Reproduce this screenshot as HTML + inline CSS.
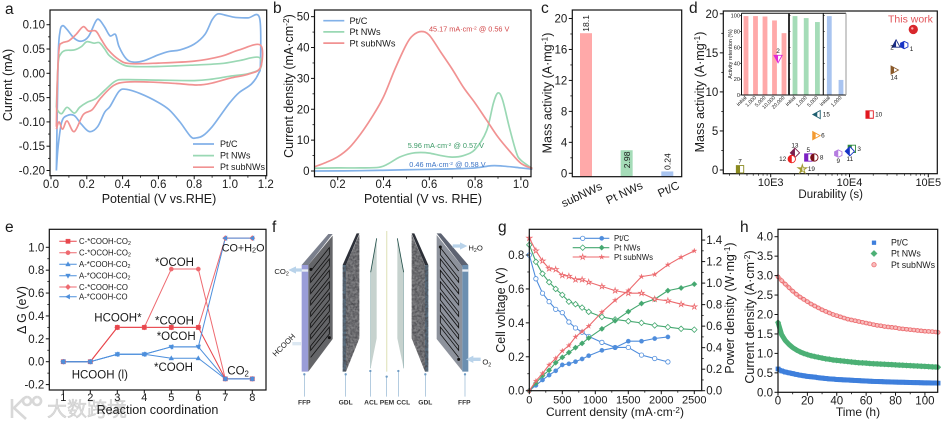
<!DOCTYPE html>
<html>
<head>
<meta charset="utf-8">
<title>Catalyst performance figure</title>
<style>
html,body{margin:0;padding:0;background:#fff;width:949px;height:426px;overflow:hidden}
svg{display:block;font-family:"Liberation Sans","Noto Sans CJK SC",sans-serif;filter:blur(.25px)}
</style>
</head>
<body>
<svg id="fig" xmlns="http://www.w3.org/2000/svg" width="949" height="426" viewBox="0 0 949 426">
<defs>
<filter id="grain" x="0" y="0" width="100%" height="100%" color-interpolation-filters="sRGB">
<feTurbulence type="fractalNoise" baseFrequency="0.14" numOctaves="2" seed="4"/>
<feColorMatrix values="0 0 0 0 .28  0 0 0 0 .28  0 0 0 0 .3  1.3 1.3 0 0 -.95"/>
<feComposite in2="SourceGraphic" operator="in" result="dots"/>
<feMerge><feMergeNode in="SourceGraphic"/><feMergeNode in="dots"/></feMerge>
</filter>
</defs>
<rect width="949" height="426" fill="#fff"/>

<g>
<path d="M12 399 L12 418 M24 398 L14 408 L26 419 M27 397 a4 4 0 1 0 .1 0 M37 397 a4 4 0 1 0 .1 0" fill="none" stroke="#d8d8d8" stroke-width="2.6"/>
<text x="47" y="416" font-size="20" fill="#dcdcdc" stroke="#cccccc" stroke-width=".5" font-family="'Noto Sans CJK SC',sans-serif">大数跨境</text>
</g>

<text x="272" y="232" font-size="15.5" fill="#1a1a1a">f</text>

<g id="panel-f" transform="translate(260 215) scale(.33333)">
<g>
<polygon points="125,150 205,57 218,57 145,150" fill="#7a7f8c"/>
<polygon points="125,150 145,150 145,470 125,470" fill="#9a9dd8"/>
<rect x="125" y="163" width="20" height="7" fill="#e8ecf4"/>
<polygon points="145,150 218,62 218,372 145,470" fill="#646568"/>
<path id="chanL" fill="none" stroke="#111" stroke-width="2.4"/>
<circle cx="153" cy="163" r="4.5" fill="#111"/><circle cx="208" cy="368" r="4.5" fill="#111"/>
</g>
<g>
<polygon points="248,150 290,55 298,55 258,150" fill="#2d3038"/>
<polygon points="258,150 298,58 298,370 258,470" fill="#808083" filter="url(#grain)"/>
<polygon points="248,150 258,150 258,470 248,470" fill="#5a6f80" filter="url(#grain)"/>
</g>
<g>
<polygon points="332,172 350,70 350,370 332,460" fill="#c6d2ce"/>
<line x1="332" y1="172" x2="350" y2="70" stroke="#23504a" stroke-width="2.5"/>
<line x1="332" y1="172" x2="332" y2="460" stroke="#7fa5a8" stroke-width="1.5"/>
</g>
<rect x="378" y="48" width="4" height="422" fill="#e6e8c8"/>
<g>
<polygon points="412,70 431,172 431,460 412,370" fill="#c6d2ce"/>
<line x1="412" y1="70" x2="431" y2="172" stroke="#23504a" stroke-width="2.5"/>
<line x1="431" y1="172" x2="431" y2="460" stroke="#7fa5a8" stroke-width="1.5"/>
</g>
<g>
<polygon points="455,55 463,55 505,150 495,150" fill="#2d3038"/>
<polygon points="455,58 495,150 495,470 455,370" fill="#808083" filter="url(#grain)"/>
<polygon points="495,150 505,150 505,470 495,470" fill="#5a6f80" filter="url(#grain)"/>
</g>
<g>
<polygon points="530,55 543,55 625,150 607,155" fill="#5d6372"/>
<polygon points="530,60 607,155 607,468 530,372" fill="#8d929c"/>
<polygon points="607,150 625,150 625,470 607,470" fill="#6c8fb0"/>
<rect x="607" y="163" width="18" height="7" fill="#e8ecf4"/>
<path id="chanR" fill="none" stroke="#111" stroke-width="2.4"/>
<circle cx="541" cy="96" r="4.5" fill="#111"/><circle cx="596" cy="433" r="4.5" fill="#111"/>
</g>
<g fill="#b9d3ea">
<polygon points="125,160 108,160 108,154 85,165 108,176 108,170 125,170"/>
<polygon points="578,88 600,88 600,82 622,93 600,104 600,98 578,98"/>
<polygon points="662,428 640,428 640,422 618,433 640,444 640,438 662,438"/>
<rect x="97" y="381" width="26" height="10" fill="#dce8f2"/>
</g>
<g stroke="#8fb2d0" stroke-width="2" fill="#6f9cc4">
<path d="M133 478V545M257 478V545M331 468V545M380 485V545M415 468V545M496 478V545M615 478V545" fill="none"/>
<circle cx="133" cy="478" r="3.5" stroke="none"/><circle cx="257" cy="478" r="3.5" stroke="none"/><circle cx="331" cy="468" r="3.5" stroke="none"/><circle cx="380" cy="485" r="3.5" stroke="none"/><circle cx="415" cy="468" r="3.5" stroke="none"/><circle cx="496" cy="478" r="3.5" stroke="none"/><circle cx="615" cy="478" r="3.5" stroke="none"/>
</g>
<g font-size="20" font-weight="bold" fill="#333" text-anchor="middle">
<text x="133" y="568">FFP</text>
<text x="257" y="568">GDL</text>
<text x="333" y="568">ACL</text>
<text x="381" y="568">PEM</text>
<text x="430" y="568">CCL</text>
<text x="496" y="568">GDL</text>
<text x="613" y="568">FFP</text>
</g>
<g font-size="23" fill="#222">
<text x="43" y="177">CO<tspan font-size="16" dy="5">2</tspan></text>
<text x="625" y="106">H<tspan font-size="16" dy="5">2</tspan><tspan dy="-5">O</tspan></text>
<text x="667" y="449">O<tspan font-size="16" dy="5">2</tspan></text>
<text transform="translate(47 426) rotate(-45)">HCOOH</text>
</g>
</g>
</svg>

<script>
/* ---------- panel a: CV curves ---------- */
var cvPtcV=[.03,.04,.05,.065,.09,.13,.17,.21,.25,.27,.3,.33,.36,.38,.42,.46,.52,.6,.66,.72,.8,.86,.9,.93,.97,1.03,1.1,1.165,1.17,1.16,1.12,1.05,1,.95,.9,.85,.81,.78,.72,.66,.6,.5,.42,.38,.33,.3,.26,.215,.17,.13,.09,.06,.04,.03];
var cvPtcI=[-.2,.03,.085,.098,.09,.072,.066,.076,.107,.11,.095,.077,.08,.055,.03,.023,.026,.038,.045,.048,.06,.08,.11,.122,.12,.115,.114,.114,.02,0,-.022,-.04,-.06,-.085,-.11,-.128,-.133,-.13,-.1,-.075,-.06,-.042,-.033,-.037,-.068,-.08,-.11,-.12,-.105,-.087,-.087,-.1,-.15,-.2];
var cvNwV=[.03,.04,.055,.08,.13,.17,.2,.24,.27,.3,.33,.4,.46,.6,.8,.95,1.05,1.16,1.17,1.1,1,.9,.8,.6,.42,.36,.3,.25,.2,.16,.13,.09,.06,.04,.03];
var cvNwI=[-.07,.02,.04,.047,.048,.055,.065,.062,.063,.05,.035,.018,.014,.014,.017,.02,.026,.033,.01,-.001,-.006,-.012,-.015,-.014,-.013,-.016,-.035,-.052,-.06,-.07,-.082,-.07,-.083,-.078,-.07];
var cvSubV=[.03,.035,.045,.06,.1,.14,.18,.21,.25,.28,.32,.38,.44,.6,.8,.95,1.05,1.17,1.17,1.1,1,.9,.82,.7,.55,.42,.35,.28,.23,.18,.13,.09,.065,.045,.03];
var cvSubI=[-.11,-.02,.05,.062,.067,.08,.096,.087,.087,.07,.048,.028,.02,.021,.025,.035,.048,.058,.012,-.002,-.01,-.02,-.024,-.021,-.018,-.018,-.025,-.05,-.075,-.085,-.12,-.098,-.115,-.1,-.115];
var cvXTicks=[0,.2,.4,.6,.8,1,1.2];
var cvYTicks=[-.2,-.15,-.1,-.05,0,.05,.1];
var seriesNames=["Pt/C","Pt NWs","Pt subNWs"];

/* ---------- panel b: current density ---------- */
var lsvPtcV=[.1,.3,.5,.58,.7,.8,.87,.92,1,1.05];
var lsvPtcJ=[0,.1,.4,.5,.7,1,1.7,1.6,1,.6];
var lsvNwV=[.1,.2,.3,.38,.42,.47,.52,.56,.6,.65,.7,.75,.8,.85,.88,.9,.92,.95,.98,1,1.05];
var lsvNwJ=[.9,1,1,1.2,2.3,4.5,5.7,6,5.8,5,4.5,5,7,13,22,25.3,23,14,6,3.5,.8];
var lsvSubV=[.1,.15,.2,.25,.3,.35,.4,.45,.5,.53,.565,.6,.65,.7,.75,.8,.85,.9,.95,1,1.05];
var lsvSubJ=[1.4,2.8,4.6,7.5,12,17.5,24,33,41,44,45.2,44,38.5,33,27,22,16.5,11,6.5,2.5,.8];
var lsvXTicks=[.2,.4,.6,.8,1];
var lsvYTicks=[0,10,20,30,40,50];

/* ---------- panel c: mass activity bars ---------- */
var barCats=["subNWs","Pt NWs","Pt/C"];
var barVals=[18.1,2.98,0.24];
var barYTicks=[0,4,8,12,16,20];

/* ---------- panel d: durability scatter ---------- */
var durIds=["This work","1","2","14","15","10","6","3","11","9","13","5","8","12","19","7","2"];
var durSeconds=[64500,49500,39000,36700,3900,18000,3720,10700,10100,7200,2030,3000,3580,1850,2520,408,1240];
var durActivity=[18,16,16.1,12.8,7.1,7.1,4.4,2.7,2.4,2.1,2.2,1.6,1.6,1.4,.1,.1,14.3];
var durXTicks=[1000,10000,100000];
var durXLabels=["10E3","10E4","10E5"];
var durYTicks=[0,5,10,15,20];
var retentionSubCats=["initial","1,000","5,000","10,000","20,000"];
var retentionSub=[99.5,99.5,99,94,78];
var retentionNwCats=["initial","1,000","5,000"];
var retentionNw=[99.5,97,92];
var retentionPtcCats=["initial","1,000"];
var retentionPtc=[99.5,19];
var retentionTicks=[0,20,40,60,80,100];

/* ---------- panel e: free energy ---------- */
var rxnSteps=[1,2,3,4,5,6,7,8];
var feCCooCO2=[0,0,.3,.3,.3,.3,-.15,-.15];
var feCOcoCO2=[0,0,.3,.3,.81,.81,-.15,-.15];
var feACooCO2=[0,0,.065,.065,.03,.03,-.15,-.15];
var feAOcoCO2=[0,0,.065,.065,.13,.13,-.15,-.15];
var feCCooCO=[0,0,.3,.3,.3,.3,1.08,1.08];
var feACooCO=[0,0,.065,.065,.13,.13,1.08,1.08];
var feYTicks=[-.2,0,.2,.4,.6,.8,1];

/* ---------- panel g: polarization ---------- */
var jPtc=[0,100,200,300,400,500,600,700,800,900,1100,1300,1500,1700,1900,2100];
var jAll=[0,100,200,300,400,500,600,700,800,900,1100,1300,1500,1700,1900,2100,2300,2500];
var voltPtc=[.8,.66,.575,.525,.48,.46,.405,.37,.345,.32,.285,.255,.255,.21,.19,.17];
var powPtc=[0,.05,.1,.145,.185,.24,.25,.27,.295,.325,.375,.4,.46,.46,.485,.5];
var voltNw=[.86,.76,.69,.64,.6,.565,.525,.51,.49,.465,.435,.42,.41,.4,.385,.375,.365,.36];
var powNw=[0,.07,.14,.19,.26,.31,.355,.4,.44,.49,.575,.65,.735,.81,.85,.93,.955,.99];
var voltSub=[.9,.825,.765,.72,.715,.68,.675,.655,.655,.64,.615,.59,.575,.575,.54,.53,.51,.495];
var powSub=[0,.09,.16,.24,.3,.37,.42,.5,.55,.6,.73,.84,.93,1.06,1.08,1.17,1.24,1.3];
var jTicks=[0,500,1000,1500,2000,2500];
var voltTicks=[0,.2,.4,.6,.8];
var powTicks=[0,.2,.4,.6,.8,1,1.2,1.4];

/* ---------- panel h: stability ---------- */
var hours=[0,2.5,5,7.5,10,12.5,15,17.5,20,22.5,25,27.5,30,32.5,35,37.5,40,42.5,45,47.5,50,52.5,55,57.5,60,62.5,65,67.5,70,72.5,75,77.5,80,82.5,85,87.5,90,92.5,95,97.5,100,102.5,105,107.5,109];
var stabPtc=[.6,.55,.52,.5,.48,.46,.44,.425,.41,.4,.39,.375,.365,.355,.345,.34,.33,.325,.32,.315,.31,.305,.3,.295,.29,.285,.28,.278,.275,.27,.268,.265,.262,.26,.257,.255,.252,.25,.248,.245,.243,.242,.24,.238,.236];
var stabNw=[1.8,1.48,1.33,1.23,1.15,1.09,1.04,1,.97,.94,.92,.9,.88,.86,.85,.83,.82,.81,.8,.79,.78,.77,.76,.755,.75,.74,.735,.73,.725,.72,.715,.71,.705,.7,.695,.69,.685,.68,.675,.67,.665,.66,.655,.65,.645];
var stabSub=[2.97,2.87,2.78,2.69,2.6,2.52,2.45,2.39,2.33,2.27,2.22,2.17,2.12,2.08,2.04,2,1.97,1.94,1.91,1.88,1.86,1.84,1.82,1.8,1.78,1.76,1.74,1.72,1.71,1.69,1.68,1.67,1.66,1.64,1.63,1.62,1.61,1.6,1.59,1.58,1.57,1.565,1.56,1.55,1.54];
var timeTicks=[0,20,40,60,80,100];
var stabYTicks=[0,.5,1,1.5,2,2.5,3,3.5,4];

var NS="http://www.w3.org/2000/svg";
var root=document.getElementById('fig');
var BLUE="#82b1e8",GREEN="#9ad8b4",RED="#f19292",INK="#1a1a1a";

function mk(tag,attrs,name,parent){
  var el=document.createElementNS(NS,tag);
  for(var k in attrs){el.setAttribute(k,attrs[k]);}
  
  
  (parent||root).appendChild(el);
  return el;
}
function rich(el,str){
  var re=/(\^|_)\{(.*?)\}/g,last=0,m;
  while((m=re.exec(str))){
    if(m.index>last){el.appendChild(document.createTextNode(str.slice(last,m.index)));}
    var t=document.createElementNS(NS,'tspan');
    t.setAttribute('font-size','68%');
    t.setAttribute('baseline-shift',m[1]==='^'?'40%':'-20%');
    t.textContent=m[2];
    el.appendChild(t);
    last=re.lastIndex;
  }
  if(last<str.length){el.appendChild(document.createTextNode(str.slice(last)));}
}
function txt(x,y,s,size,name,o){
  o=o||{};
  var a={x:x,y:y,'font-size':size,fill:o.fill||INK};
  if(o.anchor){a['text-anchor']=o.anchor;}
  if(o.rot!==undefined){a.transform='rotate('+o.rot+' '+x+' '+y+')';}
  if(o.weight){a['font-weight']=o.weight;}
  var el=mk('text',a,name);
  rich(el,s);
  return el;
}
function ln(x1,y1,x2,y2,c,w,name){return mk('line',{x1:x1,y1:y1,x2:x2,y2:y2,stroke:c,'stroke-width':w},name);}
function polyD(xs,ys){
  var d='';
  for(var i=0;i<xs.length;i++){d+=(i?'L':'M')+xs[i].toFixed(2)+' '+ys[i].toFixed(2);}
  return d;
}
function smoothD(xs,ys){
  var d='M'+xs[0].toFixed(2)+' '+ys[0].toFixed(2),n=xs.length,t=6;
  for(var i=0;i<n-1;i++){
    var p0=Math.max(i-1,0),p3=Math.min(i+2,n-1);
    var c1x=xs[i]+(xs[i+1]-xs[p0])/t,c1y=ys[i]+(ys[i+1]-ys[p0])/t;
    var c2x=xs[i+1]-(xs[p3]-xs[i])/t,c2y=ys[i+1]-(ys[p3]-ys[i])/t;
    d+='C'+c1x.toFixed(2)+' '+c1y.toFixed(2)+' '+c2x.toFixed(2)+' '+c2y.toFixed(2)+' '+xs[i+1].toFixed(2)+' '+ys[i+1].toFixed(2);
  }
  return d;
}
function plotLine(vx,vy,sx,sy,c,w,name,smooth){
  var xs=vx.map(sx),ys=vy.map(sy);
  return mk('path',{d:smooth?smoothD(xs,ys):polyD(xs,ys),fill:'none',stroke:c,'stroke-width':w,'stroke-linejoin':'round'},name);
}
function marker(type,x,y,r,fill,stroke,sw,name){
  var a={fill:fill,stroke:stroke,'stroke-width':sw};
  var pts=null;
  if(type==='c'){a.cx=x;a.cy=y;a.r=r;return mk('circle',a,name);}
  if(type==='s'){pts=[[-r,-r],[r,-r],[r,r],[-r,r]];}
  if(type==='d'){pts=[[0,-r*1.25],[r*1.25,0],[0,r*1.25],[-r*1.25,0]];}
  if(type==='u'){pts=[[0,-r*1.2],[r*1.1,r*.8],[-r*1.1,r*.8]];}
  if(type==='v'){pts=[[0,r*1.2],[r*1.1,-r*.8],[-r*1.1,-r*.8]];}
  if(type==='l'){pts=[[-r*1.2,0],[r*.8,-r*1.1],[r*.8,r*1.1]];}
  if(type==='r'){pts=[[r*1.2,0],[-r*.8,-r*1.1],[-r*.8,r*1.1]];}
  if(type==='h'){pts=[[-r,-r*.5],[0,-r],[r,-r*.5],[r,r*.5],[0,r],[-r,r*.5]];}
  if(type==='*'){
    pts=[];
    for(var i=0;i<10;i++){
      var R=i%2?r*.45:r*1.25,ang=-Math.PI/2+i*Math.PI/5;
      pts.push([R*Math.cos(ang),R*Math.sin(ang)]);
    }
  }
  a.points=pts.map(function(p){return (x+p[0]).toFixed(2)+','+(y+p[1]).toFixed(2);}).join(' ');
  return mk('polygon',a,name);
}
function midTicks(t){
  var r=[];
  for(var i=0;i<t.length-1;i++){r.push((t[i]+t[i+1])/2);}
  return r;
}
function frame(p,b,w){
  mk('rect',{x:b.l,y:b.t,width:b.r-b.l,height:b.b-b.t,fill:'none',stroke:'#111','stroke-width':w||1.2},p+'-plot-frame');
}
function xAxis(p,b,sx,ticks,fmt,size,by,minor){
  ticks.forEach(function(v,i){
    ln(sx(v),b.b,sx(v),b.b+3.5,'#111',1,p+'-x-tick');
    txt(sx(v),by,fmt(v,i),size,p+'-x-tick-label',{anchor:'middle'});
  });
  (minor||midTicks(ticks)).forEach(function(v){ln(sx(v),b.b,sx(v),b.b+2,'#111',.8,p+'-x-minor-tick');});
}
function yAxis(p,b,sy,ticks,fmt,size,minor){
  ticks.forEach(function(v){
    ln(b.l-3.5,sy(v),b.l,sy(v),'#111',1,p+'-y-tick');
    txt(b.l-5,sy(v)+4,fmt(v),size,p+'-y-tick-label',{anchor:'end'});
  });
  (minor||midTicks(ticks)).forEach(function(v){ln(b.l-2,sy(v),b.l,sy(v),'#111',.8,p+'-y-minor-tick');});
}
function fx(n){return function(v){return v.toFixed(n);};}

/* ===== panel a ===== */
(function(){
  var p='panel-a',b={l:50,t:10,r:266.7,b:175.7};
  var sx=function(v){return 51+v*179;},sy=function(v){return 73.3-v*486;};
  plotLine(cvPtcV,cvPtcI,sx,sy,BLUE,1.7,'cv-curve-pt-c',true);
  plotLine(cvNwV,cvNwI,sx,sy,GREEN,1.7,'cv-curve-pt-nws',true);
  plotLine(cvSubV,cvSubI,sx,sy,RED,1.7,'cv-curve-pt-subnws',true);
  frame(p,b);
  xAxis(p,b,sx,cvXTicks,fx(1),11.5,188);
  yAxis(p,b,sy,cvYTicks,fx(2),11.5);
  txt(5,14,'a',15.5,'panel-a-label');
  txt(159,203,'Potential (V vs.RHE)',12.5,'panel-a-x-title',{anchor:'middle'});
  txt(12,85,'Current (mA)',12.5,'panel-a-y-title',{anchor:'middle',rot:-90});
  [BLUE,GREEN,RED].forEach(function(c,i){
    var y=144+i*11.6;
    ln(193,y,214,y,c,1.7,'legend-line-'+i);
    txt(220,y+3,seriesNames[i],9,'legend-entry-'+i);
  });
})();

/* ===== panel b ===== */
(function(){
  var p='panel-b',b={l:314.5,t:10,r:531,b:176.7};
  var sx=function(v){return 337.7+(v-.2)*229;},sy=function(v){return 171-v*3.087;};
  plotLine(lsvPtcV,lsvPtcJ,sx,sy,BLUE,1.7,'lsv-curve-pt-c',true);
  plotLine(lsvNwV,lsvNwJ,sx,sy,GREEN,1.7,'lsv-curve-pt-nws',true);
  plotLine(lsvSubV,lsvSubJ,sx,sy,RED,1.7,'lsv-curve-pt-subnws',true);
  frame(p,b);
  xAxis(p,b,sx,lsvXTicks,fx(1),11.5,188);
  yAxis(p,b,sy,lsvYTicks,fx(0),11.5);
  txt(273,13,'b',15.5,'panel-b-label');
  txt(423,203,'Potential (V vs. RHE)',12.5,'panel-b-x-title',{anchor:'middle'});
  txt(293,86,'Current density (mA·cm^{-2})',12.5,'panel-b-y-title',{anchor:'middle',rot:-90});
  [BLUE,GREEN,RED].forEach(function(c,i){
    var y=20.7+i*11.2;
    ln(323.3,y,344.3,y,c,1.7,'legend-line-'+i);
    txt(349.5,y+3.2,seriesNames[i],9.2,'legend-entry-'+i);
  });
  txt(429,31.5,'45.17 mA·cm^{-2} @ 0.56 V',7.3,'peak-annotation-subnws',{fill:'#d2484a'});
  txt(407.7,148,'5.96 mA·cm^{-2} @ 0.57 V',7.3,'peak-annotation-nws',{fill:'#3b9a66'});
  txt(409.3,167,'0.46 mA·cm^{-2} @ 0.58 V',7.3,'peak-annotation-ptc',{fill:'#3a72c4'});
})();

/* ===== panel c ===== */
(function(){
  var p='panel-c',b={l:572.3,t:10,r:681.7,b:176.7};
  var sy=function(v){return 173.3-7.74*v;};
  var colors=['#ffa9a9','#a5dcb8','#a9c4f0'];
  var slot=function(i){return 586+i*40.65;};
  barCats.forEach(function(c,i){
    var v=barVals[i];
    mk('rect',{x:slot(i)-6,y:sy(v),width:12,height:b.b-sy(v),fill:colors[i]},'bar-'+c.toLowerCase().replace(/[^a-z]/g,''));
    var inside=v>1&&v<10;
    txt(slot(i)+3.2,inside?sy(v)+18:sy(v)-1.5,v.toFixed(v<10?2:1),8.6,'bar-value-label',{rot:-90});
    txt(slot(i)+(i===2?13:17),189-(i?1:0),c,11.5,'bar-category-label',{anchor:'end',rot:-25});
  });
  frame(p,b);
  yAxis(p,b,sy,barYTicks,fx(0),11.5);
  txt(541,13,'c',15.5,'panel-c-label');
  txt(551.7,93,'Mass activity (A·mg^{-1})',12.5,'panel-c-y-title',{anchor:'middle',rot:-90});
})();

/* ===== panel d ===== */
(function(){
  var p='panel-d',b={l:723.3,t:11,r:937.3,b:173.7};
  var sx=function(v){return 770.7+78.8*(Math.log(v)/Math.LN10-3);},sy=function(v){return 170-7.81*v;};
  frame(p,b);
  xAxis(p,b,sx,durXTicks,function(v,i){return durXLabels[i];},11,186,[]);
  [2,3,4,5,6,7,8,9].forEach(function(m){
    [100,1000,10000].forEach(function(d){
      var x=sx(m*d);
      if(x>b.l&&x<b.r){ln(x,b.b,x,b.b+2,'#111',.7,p+'-x-minor-tick');}
    });
  });
  yAxis(p,b,sy,durYTicks,fx(0),11.5);
  txt(689,13,'d',15.5,'panel-d-label');
  txt(830.7,198,'Durability (s)',11.5,'panel-d-x-title',{anchor:'middle'});
  txt(704,92,'Mass activity (A·mg^{-1})',12.5,'panel-d-y-title',{anchor:'middle',rot:-90});
  txt(888,22.5,'This work',10.5,'this-work-label',{fill:'#e2555a'});

  /* inset */
  var it=13.3,ib=95,il=741.5,ir=846;
  mk('rect',{x:il,y:it,width:ir-il,height:ib-it,fill:'#fff',stroke:'none'},'inset-background');
  var isy=function(v){return 95-.793*v;};
  function bars(vals,cats,x0,dx,col,nm){
    vals.forEach(function(v,i){
      var cx=x0+i*dx;
      mk('rect',{x:cx-2.4,y:isy(v),width:4.8,height:isy(0)-isy(v),fill:col},nm);
      txt(cx+1,ib+3,cats[i],5.2,'inset-x-label',{anchor:'end',rot:-45});
    });
  }
  bars(retentionSub,retentionSubCats,746,9.5,'#ffa9a9','inset-bar-subnws');
  bars(retentionNw,retentionNwCats,795,11.2,'#a5dcb8','inset-bar-nws');
  bars(retentionPtc,retentionPtcCats,829.3,11.7,'#a9c4f0','inset-bar-ptc');
  ln(il,it,ir,it,'#111',1,'inset-top-border');
  ln(il,it,il,ib,'#111',1,'inset-left-border');
  ln(il,ib,ir,ib,'#111',1,'inset-bottom-border');
  ln(ir,it,ir,ib,'#999',1,'inset-right-border');
  ln(789,it,789,ib,'#333',2,'inset-divider');
  ln(823.3,it,823.3,ib,'#111',1.1,'inset-divider');
  retentionTicks.forEach(function(v){
    ln(il-1.5,isy(v),il,isy(v),'#111',.7,'inset-y-tick');
    txt(il-1.5,isy(v)+2,v.toFixed(0),5.6,'inset-y-tick-label',{anchor:'end'});
    ln(789,isy(v),790.5,isy(v),'#111',.6,'inset-y-tick');
    ln(823.3,isy(v),824.8,isy(v),'#111',.6,'inset-y-tick');
  });
  txt(732,54,'Activity retention (%)',5.4,'inset-y-title',{anchor:'middle',rot:-90});

  /* scatter marks */
  var shapes=['c','h','u','r','l','s','r','s','d','h','d','s','c','c','*','s','v'];
  var fills=['#d8272c','#1733c6','#1a2d86','#8a5a2b','#1f5f70','#e1171f','#f39a30','#2f8a3e','#1733c6','#b57ce0','#7a1f4d','#7a1fc2','#7a1018','#ee2020','#a09a30','#8a8a20','#e028d8'];
  durIds.forEach(function(id,i){
    var x=sx(durSeconds[i]),y=sy(durActivity[i]);
    marker(shapes[i],x,y,i===0?4.2:3.7,i===0?fills[i]:'#fff',fills[i],.9,'scatter-point-outline');
    if(i===0){
      mk('circle',{cx:x-1,cy:y-1,r:1.2,fill:'#ffb0b0'},'scatter-point-highlight');
    }else{
      var half=mk('clipPath',{id:'half'+i},'half-clip');
      mk('rect',{x:x-6,y:y-6,width:6,height:12},'half-clip-rect',half);
      var f=marker(shapes[i],x,y,3.7,fills[i],'none',0,'scatter-point-fill');
      f.setAttribute('clip-path','url(#half'+i+')');
    }
    if(i>0){
      var right=[1,4,5,6,7,12,14].indexOf(i)>=0;
      var above=[10,11,15,16].indexOf(i)>=0;
      var lx=right?x+5.5:(above?x:(i===13?x-5.5:x));
      var ly=above?y-5.5:(right?y+(i===1?6:2):y+(i===13?2:9.5));
      if(i===2){lx=x-4;ly=y+5;}
      txt(lx,ly,id,6.4,'scatter-label-'+id,{anchor:(right?'start':(i===13?'end':'middle'))});
    }
  });
})();

/* ===== panel e ===== */
(function(){
  var p='panel-e',b={l:49.3,t:229.3,r:266,b:390};
  var sx=function(v){return 63.3+(v-1)*27;},sy=function(v){return 361.7-114.4*v;};
  var R='#ee6a70',B='#4d8fdc';
  var defs=[
    [feCOcoCO2,R,'c','C-*OCOH-CO_{2}'],
    [feCCooCO,R,'d','C-*COOH-CO'],
    [feCCooCO2,'#e8474d','s','C-*COOH-CO_{2}'],
    [feAOcoCO2,B,'v','A-*OCOH-CO_{2}'],
    [feACooCO2,B,'u','A-*COOH-CO_{2}'],
    [feACooCO,B,'l','A-*COOH-CO']
  ];
  defs.forEach(function(d){
    plotLine(rxnSteps,d[0],sx,sy,d[1],1,'energy-line-'+d[3].replace(/[^A-Za-z0-9]/g,'').toLowerCase(),false);
  });
  defs.forEach(function(d){
    rxnSteps.forEach(function(s,i){
      marker(d[2],sx(s),sy(d[0][i]),2.2,d[1],d[1],.3,'energy-point');
    });
  });
  frame(p,b);
  xAxis(p,b,sx,rxnSteps,fx(0),11,401,[]);
  yAxis(p,b,sy,feYTicks,fx(1),11.5);
  txt(5,232,'e',15.5,'panel-e-label');
  txt(157.5,414,'Reaction coordination',12.6,'panel-e-x-title',{anchor:'middle'});
  txt(26,310,'Δ G (eV)',12.5,'panel-e-y-title',{anchor:'middle',rot:-90});
  var legend=[defs[2],defs[0],defs[4],defs[3],defs[1],defs[5]];
  var ly=[241.3,252.7,264.3,275.7,287,296.7];
  legend.forEach(function(d,i){
    ln(59.3,ly[i],76.7,ly[i],d[1],1,'legend-line-'+i);
    marker(d[2],68,ly[i],2.2,d[1],d[1],.3,'legend-marker-'+i);
    txt(79,ly[i]+2.8,d[3],7.8,'legend-entry-'+i);
  });
  txt(94.3,321.7,'HCOOH*',11.5,'label-hcooh-star');
  txt(155,266,'*OCOH',11.5,'label-ocoh-high');
  txt(155,324.3,'*COOH',11.5,'label-cooh-high');
  txt(156.7,340,'*OCOH',11.5,'label-ocoh-low');
  txt(154,371,'*COOH',11.5,'label-cooh-low');
  txt(71.7,378.3,'HCOOH (l)',11.5,'label-hcooh-liquid');
  txt(221.7,251.7,'CO+H_{2}O',10.8,'label-co-h2o');
  txt(227.3,374.3,'CO_{2}',11.5,'label-co2');
})();

/* panel f channels */
(function(){
  function serp(ax,bx,y0,rise,gap,n){
    var d='',y=y0,side=gap*.62;
    for(var i=0;i<n;i++){
      d+=(i?'L':'M')+ax+' '+y+'L'+bx+' '+(y-rise)+'L'+bx+' '+(y-rise+side)+'L'+ax+' '+(y+side);
      y+=gap;
    }
    return d;
  }
  document.getElementById('chanL').setAttribute('d',serp(152,208,168,70,34,8));
  document.getElementById('chanR').setAttribute('d',serp(596,541,168,70,34,8));
})();

/* ===== panel g ===== */
(function(){
  var p='panel-g',b={l:529.3,t:229.3,r:701.7,b:390.7};
  var sx=function(v){return 529.3+v*.066;},sy=function(v){return 390.7-169.6*v;},sp=function(v){return 390.7-107.6*v;};
  var B='#4f8ddc',G='#45a870',R='#ec6a6e';
  var set=[[jPtc,voltPtc,powPtc,B,'c','pt-c'],[jAll,voltNw,powNw,G,'d','pt-nws'],[jAll,voltSub,powSub,R,'*','pt-subnws']];
  set.forEach(function(s){
    plotLine(s[0],s[1],sx,sy,s[3],1.1,'voltage-line-'+s[5],false);
    plotLine(s[0],s[2],sx,sp,s[3],1.1,'power-line-'+s[5],false);
    s[0].forEach(function(j,i){
      marker(s[4],sx(j),sy(s[1][i]),2.2,'#fff',s[3],.8,'voltage-point-'+s[5]);
      marker(s[4],sx(j),sp(s[2][i]),2.2,s[3],s[3],.3,'power-point-'+s[5]);
    });
  });
  frame(p,b);
  xAxis(p,b,sx,jTicks,fx(0),11,403.5);
  yAxis(p,b,sy,voltTicks,fx(1),11.5);
  powTicks.forEach(function(v){
    ln(b.r,sp(v),b.r+3.5,sp(v),'#111',1,'panel-g-right-tick');
    txt(b.r+4.5,sp(v)+4,v.toFixed(1),11.5,'panel-g-right-tick-label');
  });
  midTicks(powTicks).forEach(function(v){ln(b.r,sp(v),b.r+2,sp(v),'#111',.8,'panel-g-right-minor-tick');});
  txt(498,232,'g',15.5,'panel-g-label');
  txt(615,416,'Current density (mA·cm^{-2})',12,'panel-g-x-title',{anchor:'middle'});
  txt(505,310,'Cell voltage (V)',12.5,'panel-g-y-title',{anchor:'middle',rot:-90});
  txt(734,308,'Power density (W·mg^{-1})',12.5,'panel-g-right-title',{anchor:'middle',rot:-90});
  set.forEach(function(s,i){
    var y=238.3+i*9.35;
    ln(572.7,y,609.3,y,s[3],1.1,'legend-line-'+i);
    marker(s[4],582.7,y,2.2,'#fff',s[3],.8,'legend-marker-hollow-'+i);
    marker(s[4],601.7,y,2.2,s[3],s[3],.3,'legend-marker-filled-'+i);
    txt(614,y+2.8,seriesNames[i],7.8,'legend-entry-'+i);
  });
})();

/* ===== panel h ===== */
(function(){
  var p='panel-h',b={l:778,t:229.3,r:937.7,b:392.3};
  var sx=function(v){return 778+v*1.469;},sy=function(v){return 392.3-38.9*v;};
  var B='#3e7fdc',G='#4cb075',R='#ec6a6e';
  plotLine(hours,stabPtc,sx,sy,B,5,'stability-band-pt-c',false);
  hours.forEach(function(h,i){marker('s',sx(h),sy(stabPtc[i]),2.2,B,B,.3,'stability-point-pt-c');});
  plotLine(hours,stabNw,sx,sy,G,5,'stability-band-pt-nws',false);
  hours.forEach(function(h,i){marker('d',sx(h),sy(stabNw[i]),2.3,G,G,.3,'stability-point-pt-nws');});
  plotLine(hours,stabSub,sx,sy,'#f09a9a',4,'stability-band-pt-subnws',false);
  hours.forEach(function(h,i){marker('c',sx(h),sy(stabSub[i]),1.9,'#f8bcbc',R,.8,'stability-point-pt-subnws');});
  frame(p,b);
  xAxis(p,b,sx,timeTicks,fx(0),11.5,404.5);
  yAxis(p,b,sy,stabYTicks,fx(1),11.5,[]);
  txt(740,232,'h',15.5,'panel-h-label');
  txt(858,416,'Time (h)',12,'panel-h-x-title',{anchor:'middle'});
  txt(754,317,'Current density (A·cm^{-2})',12.5,'panel-h-y-title',{anchor:'middle',rot:-90});
  marker('s',874,242.7,2,B,B,.3,'legend-marker-pt-c');
  marker('d',874,253.5,2.6,G,G,.3,'legend-marker-pt-nws');
  marker('c',874,264.7,2.2,'#f8bcbc',R,.8,'legend-marker-pt-subnws');
  txt(891,245.5,seriesNames[0],8.8,'legend-entry-pt-c');
  txt(891,256.5,seriesNames[1],8.8,'legend-entry-pt-nws');
  txt(891,267.8,seriesNames[2],8.8,'legend-entry-pt-subnws');
})();
</script>
</body>
</html>
